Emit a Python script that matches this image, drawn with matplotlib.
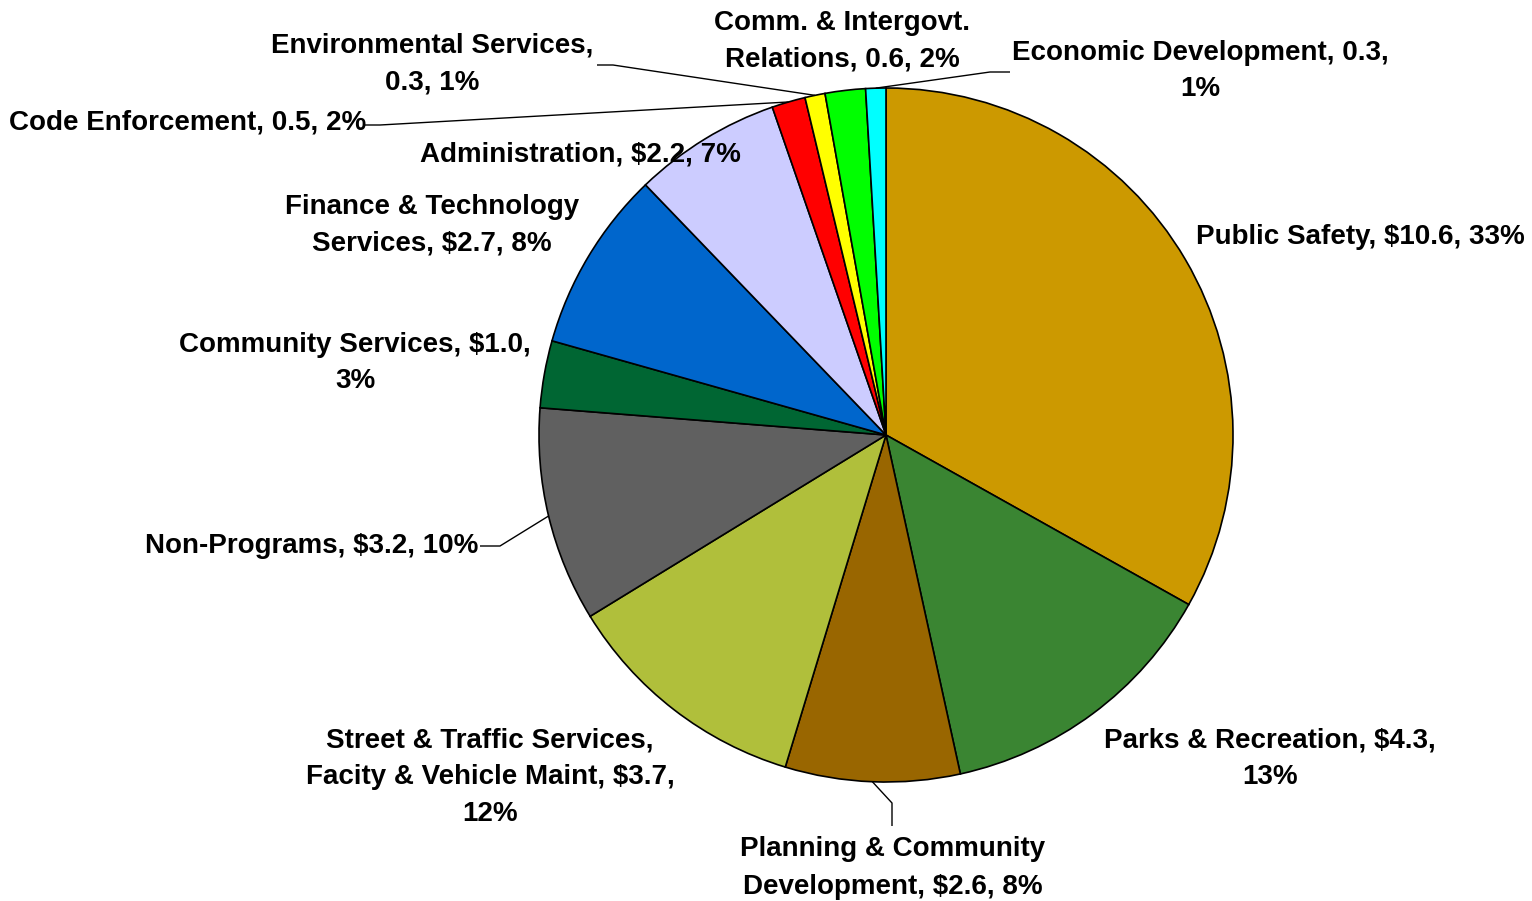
import numpy as np
import matplotlib.pyplot as plt

# Budget by program ($ millions), clockwise from 12 o'clock
programs = [
    "Public Safety", "Parks & Recreation", "Planning & Community Development",
    "Street & Traffic Services, Facity & Vehicle Maint", "Non-Programs",
    "Community Services", "Finance & Technology Services", "Administration",
    "Code Enforcement", "Environmental Services",
    "Comm. & Intergovt. Relations", "Economic Development",
]
amounts = [10.6, 4.3, 2.6, 3.7, 3.2, 1.0, 2.7, 2.2, 0.5, 0.3, 0.6, 0.3]
dollar_sign = [True, True, True, True, True, True, True, True,
               False, False, False, False]
colors = ["#CC9900", "#3A8532", "#996600", "#B0BF3B", "#606060", "#006633",
          "#0066CC", "#CCCCFF", "#FF0000", "#FFFF00", "#00FF00", "#00FFFF"]

# label text templates (line breaks as laid out on the chart)
label_fmt = [
    "Public Safety, {v}, {p}",
    "Parks & Recreation, {v},\n{p}",
    "Planning & Community\nDevelopment, {v}, {p}",
    "Street & Traffic Services,\nFacity & Vehicle Maint, {v},\n{p}",
    "Non-Programs, {v}, {p}",
    "Community Services, {v},\n{p}",
    "Finance & Technology\nServices, {v}, {p}",
    "Administration, {v}, {p}",
    "Code Enforcement, {v}, {p}",
    "Environmental Services,\n{v}, {p}",
    "Comm. & Intergovt.\nRelations, {v}, {p}",
    "Economic Development, {v},\n{p}",
]

# label centres in pixels, and leader elbows (None = no leader)
label_pos = [(1360, 237), (1270, 759), (893, 868), (490, 777), (312, 546),
             (355, 363), (432, 225), (580, 155), (188, 122), (432, 64),
             (842, 41), (1200, 71)]
leader = [None, None, [(892, 826), (892, 803)], None, [(480, 546), (500, 546)],
          None, None, None, [(365, 125), (380, 125)], [(597, 65), (613, 65)],
          None, [(1010, 72), (990, 72)]]

W, H = 1532, 901
cx, cy, r = 886, 435, 347

fig = plt.figure(figsize=(W / 100, H / 100), dpi=100)
ax = fig.add_axes([0, 0, 1, 1])
ax.set_xlim(0, W)
ax.set_ylim(H, 0)
ax.set_aspect("equal")
ax.axis("off")

# y axis is flipped, so counterclock=True runs clockwise on screen
wedges, _ = ax.pie(amounts, colors=colors, center=(cx, cy), radius=r,
                   startangle=-90, counterclock=True,
                   wedgeprops=dict(edgecolor="black", linewidth=1.2))
ax.set_xlim(0, W)
ax.set_ylim(H, 0)

total = sum(amounts)
for i, w in enumerate(wedges):
    v = ("$" if dollar_sign[i] else "") + f"{amounts[i]:.1f}"
    p = f"{round(amounts[i] / total * 100)}%"
    txt = label_fmt[i].format(v=v, p=p)
    x, y = label_pos[i]
    ax.text(x, y, txt, ha="center", va="center", multialignment="center",
            fontsize=20, fontweight="bold", family="Liberation Sans",
            linespacing=1.55)
    if leader[i] is not None:
        mid = np.deg2rad((w.theta1 + w.theta2) / 2)
        tip = (cx + r * np.cos(mid), cy + r * np.sin(mid))
        pts = leader[i] + [tip]
        ax.plot([q[0] for q in pts], [q[1] for q in pts], color="black",
                lw=1.0, solid_capstyle="butt")

fig.savefig("out.png", dpi=100, facecolor="white")
